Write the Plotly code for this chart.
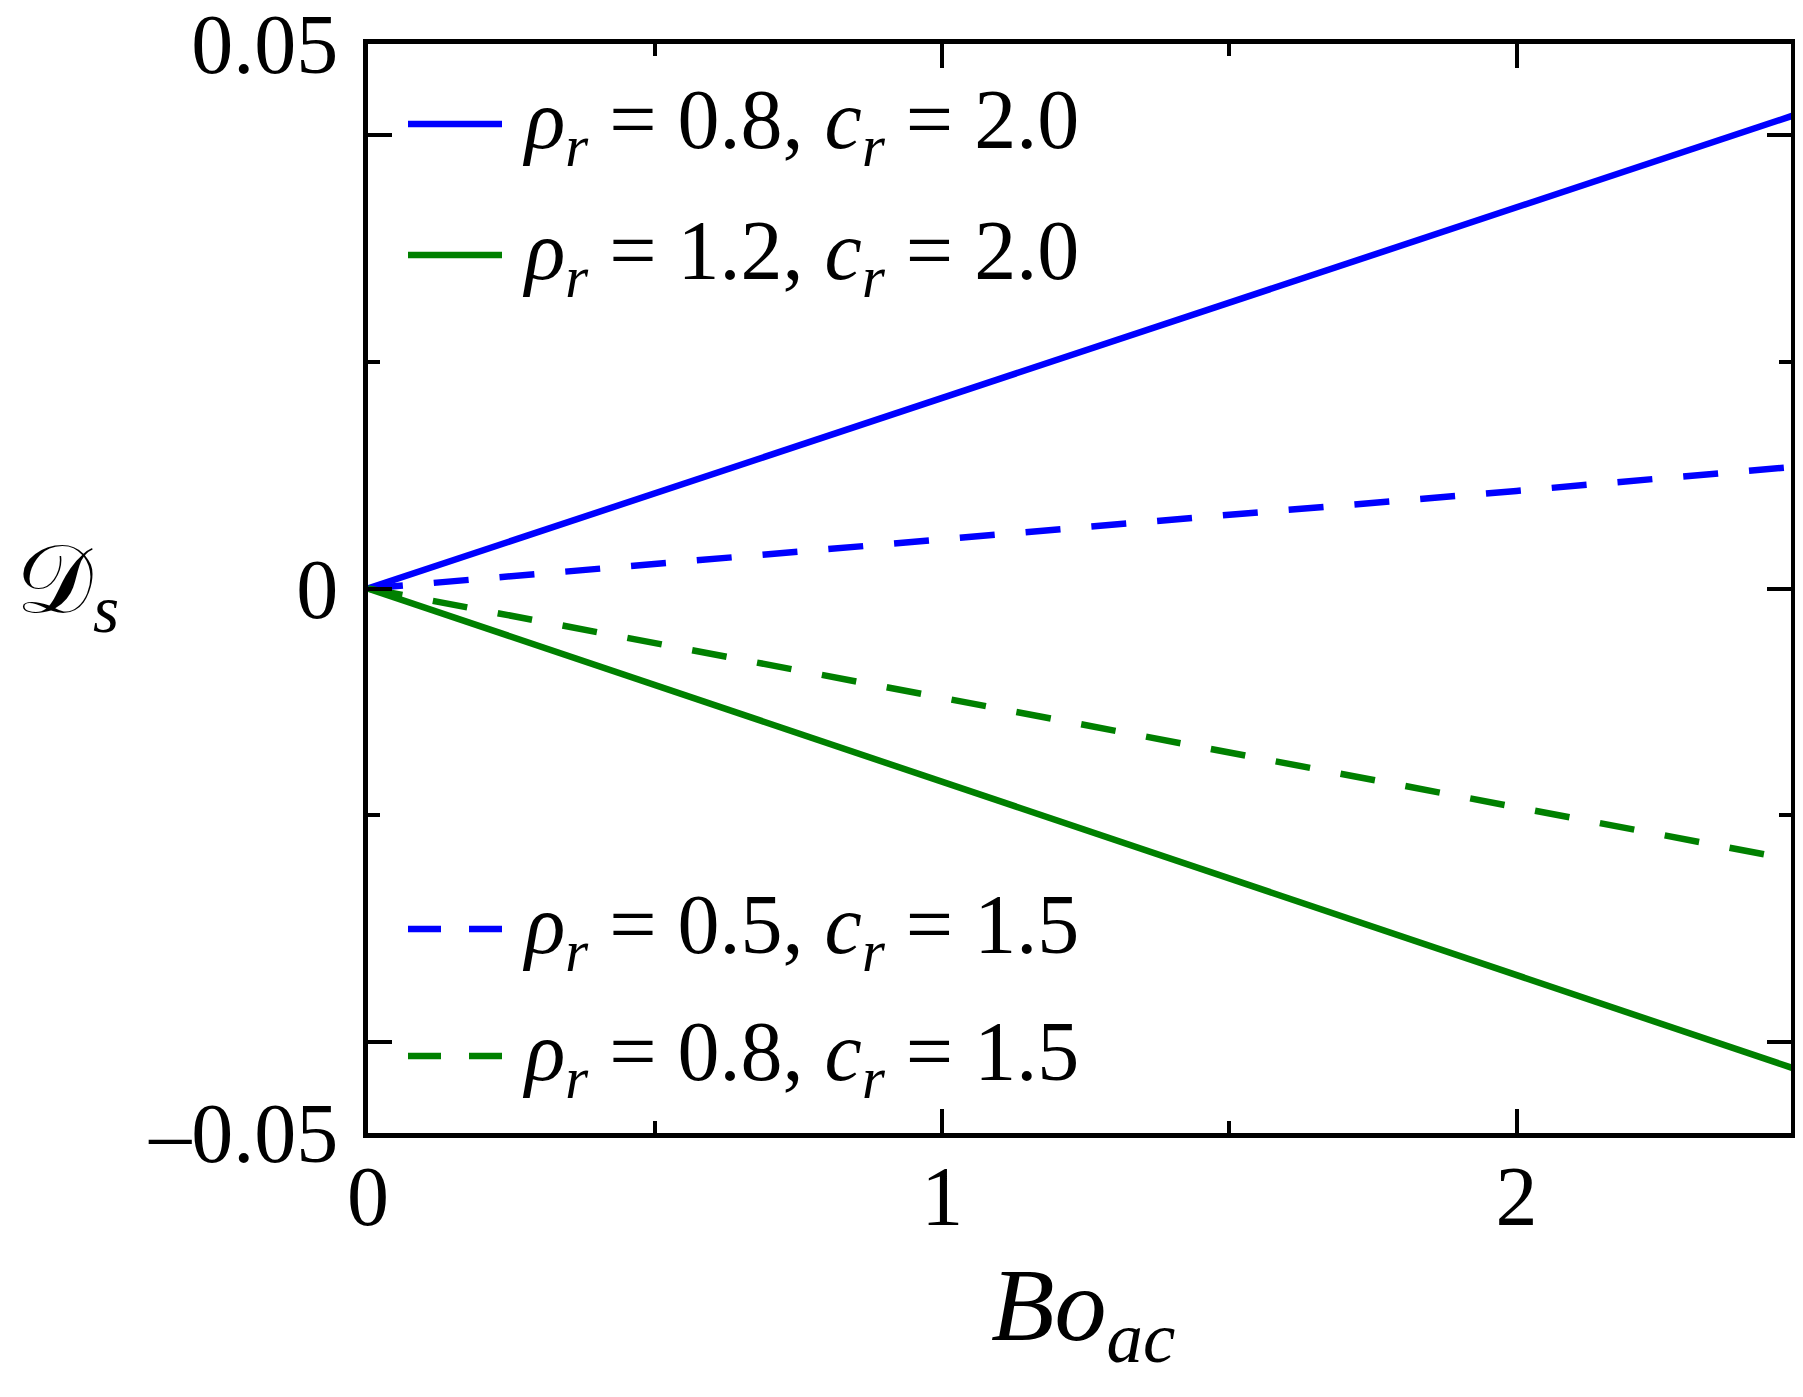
import plotly.graph_objects as go

# values
bo_ac = [0, 0.5, 1.0, 1.5, 2.0, 2.5]

ds_rho08_c20 = [0, 0.0084, 0.0168, 0.0252, 0.0336, 0.0420]
ds_rho12_c20 = [0, -0.0085, -0.0170, -0.0256, -0.0341, -0.0426]
ds_rho05_c15 = [0, 0.0022, 0.0043, 0.0065, 0.0086, 0.0108]
ds_rho08_c15 = [0, -0.0048, -0.0096, -0.0145, -0.0193, -0.0241]

names = [
    "<i>ρ</i><sub><i>r</i></sub> = 0.8, <i>c</i><sub><i>r</i></sub> = 2.0",
    "<i>ρ</i><sub><i>r</i></sub> = 1.2, <i>c</i><sub><i>r</i></sub> = 2.0",
    "<i>ρ</i><sub><i>r</i></sub> = 0.5, <i>c</i><sub><i>r</i></sub> = 1.5",
    "<i>ρ</i><sub><i>r</i></sub> = 0.8, <i>c</i><sub><i>r</i></sub> = 1.5",
]

y_tickvals = [-0.048, -0.04, 0, 0.04, 0.048]
y_ticktext = ["–0.05", "", "0", "", "0.05"]

BLUE = "rgb(0,0,255)"
GREEN = "rgb(0,128,0)"
FONT = "Liberation Serif, Times New Roman, serif"

# page body has an 8px margin all round, keep the figure inside the window
OFF = 8
W, H = 1787, 1381
L, R, T, B = 360, 4, 36, 256
PW, PH = W - L - R, H - T - B

series = [
    (ds_rho08_c20, BLUE, "solid"),
    (ds_rho12_c20, GREEN, "solid"),
    (ds_rho05_c15, BLUE, "35px,31px"),
    (ds_rho08_c15, GREEN, "35px,31px"),
]

fig = go.Figure()
for (ys, col, dash), nm in zip(series, names):
    fig.add_trace(go.Scatter(x=bo_ac, y=ys, mode="lines", name=nm,
                             line=dict(color=col, width=6.5, dash=dash),
                             showlegend=False))


# window pixel -> paper fraction
def px(x):
    return (x - OFF - L) / PW


def py(y):
    return (OFF + T + PH - y) / PH


# hand-made legend (long line samples like the original)
legend_rows = [(124, "solid"), (255, "solid"), (929, "33px,28px"), (1056, "33px,28px")]
for (yy, dash), (ys, col, _), nm in zip(legend_rows, series, names):
    fig.add_shape(type="line", xref="paper", yref="paper",
                  x0=px(408), x1=px(502), y0=py(yy), y1=py(yy),
                  line=dict(color=col, width=6.5, dash=dash))
    fig.add_annotation(text=nm, xref="paper", yref="paper",
                       x=px(520), y=py(yy), xanchor="left", yanchor="middle",
                       yshift=-2, showarrow=False,
                       font=dict(family=FONT, size=84, color="black"))

# axis titles
fig.add_annotation(text="<i>Bo</i><sub><i>ac</i></sub>", xref="paper", yref="paper",
                   x=px(1083), y=py(1312), xanchor="center", yanchor="middle",
                   showarrow=False, font=dict(family=FONT, size=104, color="black"))
fig.add_annotation(text="𝒟<sub><i>s</i></sub>", xref="paper", yref="paper",
                   x=px(14), y=py(586), xanchor="left", yanchor="middle",
                   showarrow=False, font=dict(family=FONT, size=96, color="black"))

axis_common = dict(
    showline=True, linecolor="black", linewidth=5, mirror="allticks",
    ticks="inside", ticklen=24, tickwidth=3.5, tickcolor="black",
    showgrid=False, zeroline=False, ticklabeloverflow="allow", automargin=False,
    tickfont=dict(family=FONT, size=84, color="black"),
)

fig.update_xaxes(range=[0, 2.478], tickvals=[0, 1, 2], ticktext=["0", "1", "2"],
                 minor=dict(tickvals=[0.5, 1.5], ticks="inside", ticklen=12,
                            tickwidth=3.5, tickcolor="black"),
                 ticklabelstandoff=-14, **axis_common)
fig.update_yaxes(range=[-0.048, 0.048], tickvals=y_tickvals, ticktext=y_ticktext,
                 minor=dict(tickvals=[-0.02, 0.02], ticks="inside", ticklen=12,
                            tickwidth=3.5, tickcolor="black"),
                 ticklabelstandoff=8, **axis_common)

fig.update_layout(width=W, height=H, margin=dict(l=L, r=R, t=T, b=B),
                  plot_bgcolor="white", paper_bgcolor="white",
                  font=dict(family=FONT, color="black"))

fig.write_html("out.html")
